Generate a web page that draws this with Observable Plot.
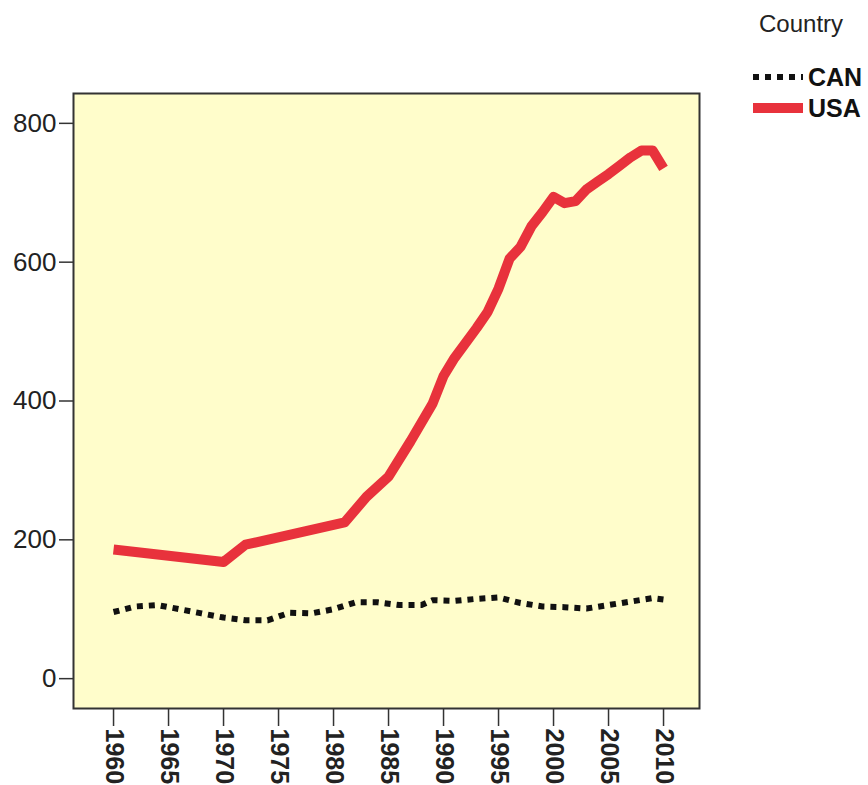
<!DOCTYPE html>
<html>
<head>
<meta charset="utf-8">
<script src="https://cdn.jsdelivr.net/npm/d3@7"></script>
<script src="https://cdn.jsdelivr.net/npm/@observablehq/plot@0.6"></script>
<style>
  html, body { margin: 0; padding: 0; background: #fff; }
  #wrap { position: relative; width: 868px; height: 785px; font-family: "Liberation Sans", Arial, sans-serif; }
  #legend { position: absolute; left: 0; top: 0; width: 868px; height: 130px; pointer-events: none; }
</style>
</head>
<body>
<div id="wrap"></div>
<script>
// ---- data ----
const usaYears  = [1960, 1970, 1972, 1981, 1983, 1985, 1987, 1989, 1990, 1991, 1993, 1994, 1995, 1996, 1997, 1998, 1999, 2000, 2001, 2002, 2003, 2004, 2005, 2006, 2007, 2008, 2009, 2010];
const usaValues = [186, 168, 193, 225, 262, 291, 342, 396, 436, 462, 505, 528, 562, 605, 622, 652, 672, 694, 685, 688, 705, 716, 727, 739, 751, 761, 761, 735];

const canYears  = [1960, 1962, 1964, 1966, 1968, 1970, 1972, 1974, 1976, 1978, 1980, 1982, 1984, 1986, 1988, 1989, 1991, 1993, 1995, 1997, 1999, 2001, 2003, 2005, 2007, 2009, 2010];
const canValues = [96, 104, 106, 100, 94, 88, 84, 84, 95, 94, 100, 110, 110, 106, 106, 113, 112, 115, 117, 109, 104, 103, 101, 106, 111, 116, 114];

const xTicks = [1960, 1965, 1970, 1975, 1980, 1985, 1990, 1995, 2000, 2005, 2010];
const yTicks = [0, 200, 400, 600, 800];
const countries = ["CAN", "USA"];

const rows = [
  ...usaYears.map((y, i) => ({country: "USA", year: y, value: usaValues[i]})),
  ...canYears.map((y, i) => ({country: "CAN", year: y, value: canValues[i]}))
];

const chart = Plot.plot({
  width: 868,
  height: 785,
  marginLeft: 73,
  marginRight: 169,
  marginTop: 93,
  marginBottom: 77,
  style: {fontFamily: "'Liberation Sans', Arial, sans-serif", background: "#fff", color: "#222"},
  x: {domain: [1956.36, 2013.27]},
  y: {domain: [-43, 843]},
  marks: [
    Plot.frame({fill: "#fffdcb", stroke: "none"}),
    Plot.line(rows.filter(d => d.country === "CAN"), {x: "year", y: "value", stroke: "#111", strokeWidth: 6, strokeDasharray: "6,6", strokeLinecap: "butt"}),
    Plot.line(rows.filter(d => d.country === "USA"), {x: "year", y: "value", stroke: "#e8323c", strokeWidth: 10, strokeLinejoin: "round", strokeLinecap: "butt"}),
    Plot.frame({stroke: "#333", strokeWidth: 2}),
    Plot.axisY({ticks: yTicks, label: null, tickSize: 14, tickPadding: 3, fontSize: 26, stroke: "#333", strokeWidth: 1.5}),
    Plot.axisX({ticks: xTicks, label: null, tickFormat: d => String(d), tickRotate: 90, tickSize: 18, tickPadding: 2, fontSize: 25, fontWeight: "bold", stroke: "#333", strokeWidth: 1.5})
  ]
});

const wrap = document.getElementById("wrap");
wrap.appendChild(chart);

// legend (SVG overlay, outside the plot area)
const legend = d3.select(wrap).append("svg").attr("id", "legend").attr("width", 868).attr("height", 130);
legend.append("text").attr("x", 759).attr("y", 32).attr("font-size", 24).attr("fill", "#222").text("Country");
const styles = {
  CAN: {stroke: "#111", width: 6, dash: "6,6", y: 77},
  USA: {stroke: "#e8323c", width: 10, dash: null, y: 108}
};
countries.forEach(c => {
  const s = styles[c];
  legend.append("line").attr("x1", 753).attr("x2", 803).attr("y1", s.y).attr("y2", s.y)
    .attr("stroke", s.stroke).attr("stroke-width", s.width).attr("stroke-dasharray", s.dash);
  legend.append("text").attr("x", 808).attr("y", s.y + 9).attr("font-size", 25).attr("font-weight", "bold").attr("fill", "#111").text(c);
});
</script>
</body>
</html>
